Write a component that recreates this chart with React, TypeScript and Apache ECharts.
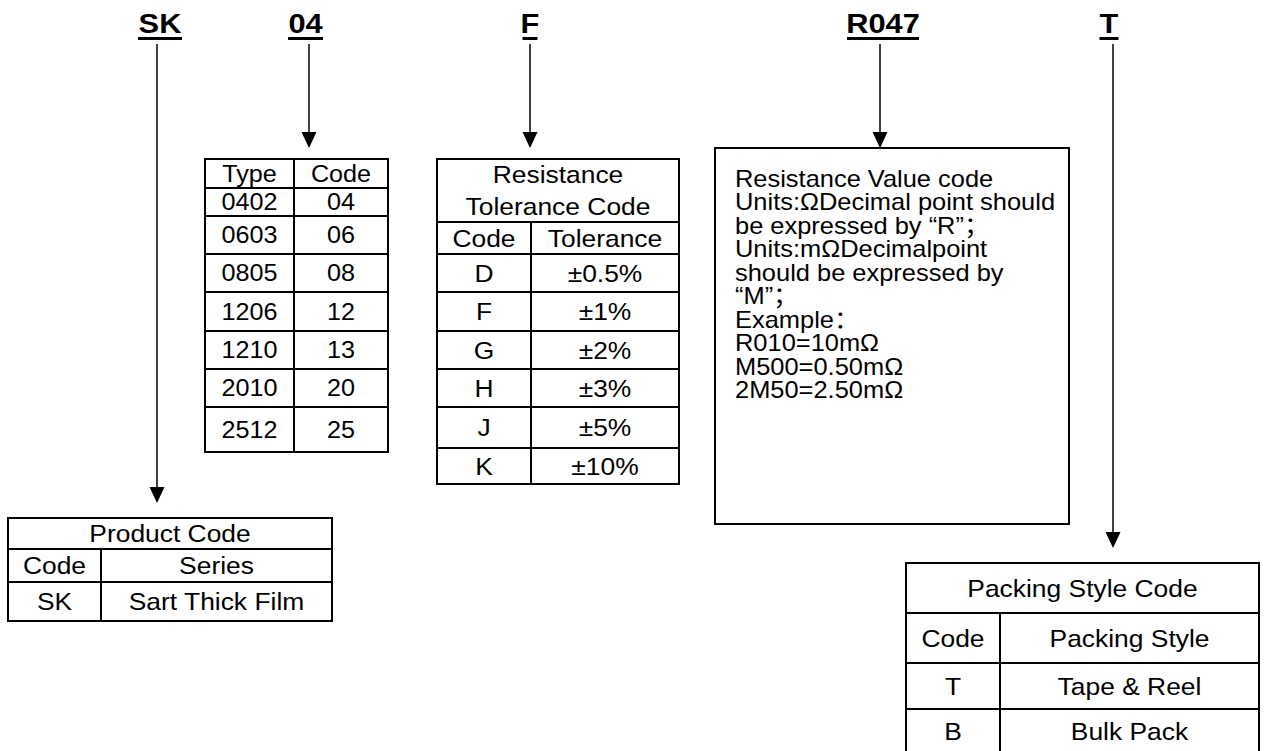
import React, { useEffect, useRef } from "react";
import * as echarts from "echarts";

// ---------- content ----------
const headerCodes = ["SK", "04", "F", "R047", "T"];

const typeHeader = ["Type", "Code"];
const typeCodes = ["0402", "0603", "0805", "1206", "1210", "2010", "2512"];
const sizeCodes = ["04", "06", "08", "12", "13", "20", "25"];

const toleranceTitle = ["Resistance", "Tolerance Code"];
const toleranceHeader = ["Code", "Tolerance"];
const toleranceCodes = ["D", "F", "G", "H", "J", "K"];
const toleranceValues = ["±0.5%", "±1%", "±2%", "±3%", "±5%", "±10%"];

const productTitle = "Product Code";
const productHeader = ["Code", "Series"];
const productCodes = ["SK"];
const productSeries = ["Sart Thick Film"];

const valueLines = [
  "Resistance Value code",
  "Units:ΩDecimal point should",
  "be expressed by “R”；",
  "Units:mΩDecimalpoint",
  "should be expressed by",
  "“M”；",
  "Example：",
  "R010=10mΩ",
  "M500=0.50mΩ",
  "2M50=2.50mΩ",
];

const packingTitle = "Packing Style Code";
const packingHeader = ["Code", "Packing Style"];
const packingCodes = ["T", "B"];
const packingStyles = ["Tape & Reel", "Bulk Pack"];

// ---------- layout ----------
const FONT = '"Liberation Sans", Arial, "Noto Sans CJK SC", sans-serif';
const HEADER_X = [160, 305.5, 530, 883, 1109];
const HEADER_HALF = [22, 17.5, 7.5, 36, 9.5];
const ARROW_X = [157, 309, 530, 880, 1113];
const ARROW_TIP = [503, 148, 148, 148, 548];

const TYPE_XS = [205, 294, 388];
const TYPE_YS = [159, 188, 216, 254, 292, 331, 369, 407, 452];
const TOL_XS = [437, 531, 679];
const TOL_YS = [159, 222, 254, 292, 331, 369, 407, 448, 484];
const PROD_XS = [8, 101, 332];
const PROD_YS = [518, 549, 582, 621];
const PACK_XS = [906, 1000, 1259];
const PACK_YS = [563, 613, 663, 709, 753];
const BOX = { x0: 715, y0: 148, x1: 1069, y1: 524, textX: 735, firstY: 178.5, step: 23.5 };

function txt(text: string, x: number, y: number, opts: any = {}) {
  const align = opts.align || "center";
  return {
    type: "text",
    x,
    y,
    scaleX: opts.scaleX ?? 1.1,
    silent: true,
    style: {
      text,
      x: 0,
      y: 0,
      fill: "#000",
      fontSize: opts.fontSize ?? 24,
      fontWeight: opts.fontWeight ?? "normal",
      fontFamily: FONT,
      align,
      textAlign: align,
      verticalAlign: "middle",
      textVerticalAlign: "middle",
    },
  };
}

function hline(x0: number, x1: number, y: number, w = 2) {
  return { type: "line", silent: true, shape: { x1: x0, y1: y, x2: x1, y2: y }, style: { stroke: "#000", lineWidth: w } };
}
function vline(x: number, y0: number, y1: number, w = 2) {
  return { type: "line", silent: true, shape: { x1: x, y1: y0, x2: x, y2: y1 }, style: { stroke: "#000", lineWidth: w } };
}

// table: rows = list of cell arrays (1 cell => spans both columns)
function table(xs: number[], ys: number[], rows: any[][], textOpts: any = {}) {
  const els: any[] = [];
  const [x0, xm, x1] = xs;
  ys.forEach((y) => els.push(hline(x0 - 1, x1 + 1, y)));
  els.push(vline(x0, ys[0], ys[ys.length - 1]));
  els.push(vline(x1, ys[0], ys[ys.length - 1]));
  rows.forEach((cells, i) => {
    const yTop = ys[i];
    const yBot = ys[i + 1];
    const yc = (yTop + yBot) / 2;
    if (cells.length === 1) {
      const c = cells[0];
      const lines = Array.isArray(c) ? c : [c];
      const lh = 32;
      lines.forEach((t: string, k: number) => {
        els.push(txt(t, (x0 + x1) / 2, yc + (k - (lines.length - 1) / 2) * lh, textOpts));
      });
    } else {
      els.push(vline(xm, yTop, yBot));
      els.push(txt(cells[0], (x0 + xm) / 2, yc, textOpts));
      els.push(txt(cells[1], (xm + x1) / 2, yc, textOpts));
    }
  });
  return els;
}

function buildElements() {
  const els: any[] = [];
  // headers, underlines, connectors, arrowheads
  headerCodes.forEach((h, i) => {
    els.push(txt(h, HEADER_X[i], 23, { fontSize: 28, fontWeight: "bold", scaleX: 1.1 }));
    els.push({
      type: "rect",
      silent: true,
      shape: { x: HEADER_X[i] - HEADER_HALF[i], y: 37, width: HEADER_HALF[i] * 2, height: 3 },
      style: { fill: "#000" },
    });
    const ax = ARROW_X[i];
    const tip = ARROW_TIP[i];
    els.push(vline(ax, 44, tip - 14, 1.5));
    els.push({
      type: "polygon",
      silent: true,
      shape: { points: [[ax - 7.5, tip - 16], [ax + 7.5, tip - 16], [ax, tip]] },
      style: { fill: "#000" },
    });
  });

  // type table
  const typeRows: any[] = [typeHeader];
  typeCodes.forEach((c, i) => typeRows.push([c, sizeCodes[i]]));
  els.push(...table(TYPE_XS, TYPE_YS, typeRows, { fontSize: 24, scaleX: 1.05 }));

  // tolerance table
  const tolRows: any[] = [[toleranceTitle], toleranceHeader];
  toleranceCodes.forEach((c, i) => tolRows.push([c, toleranceValues[i]]));
  els.push(...table(TOL_XS, TOL_YS, tolRows));

  // product table
  const prodRows: any[] = [[productTitle], productHeader];
  productCodes.forEach((c, i) => prodRows.push([c, productSeries[i]]));
  els.push(...table(PROD_XS, PROD_YS, prodRows));

  // packing table
  const packRows: any[] = [[packingTitle], packingHeader];
  packingCodes.forEach((c, i) => packRows.push([c, packingStyles[i]]));
  els.push(...table(PACK_XS, PACK_YS, packRows));

  // resistance value box
  els.push({
    type: "rect",
    silent: true,
    shape: { x: BOX.x0, y: BOX.y0, width: BOX.x1 - BOX.x0, height: BOX.y1 - BOX.y0 },
    style: { fill: "none", stroke: "#000", lineWidth: 2 },
  });
  valueLines.forEach((t, i) => {
    els.push(txt(t, BOX.textX, BOX.firstY + i * BOX.step, { align: "left", scaleX: 1.06 }));
  });
  return els;
}

export default function App() {
  const ref = useRef<HTMLDivElement>(null);
  useEffect(() => {
    if (!ref.current) return;
    const chart = echarts.init(ref.current, null, { renderer: "svg" });
    chart.setOption({
      animation: false,
      backgroundColor: "#ffffff",
      graphic: { elements: buildElements() },
    });
    return () => chart.dispose();
  }, []);
  return (
    <div
      ref={ref}
      style={{ position: "fixed", left: 0, top: 0, width: 1264, height: 751, background: "#fff" }}
    />
  );
}
